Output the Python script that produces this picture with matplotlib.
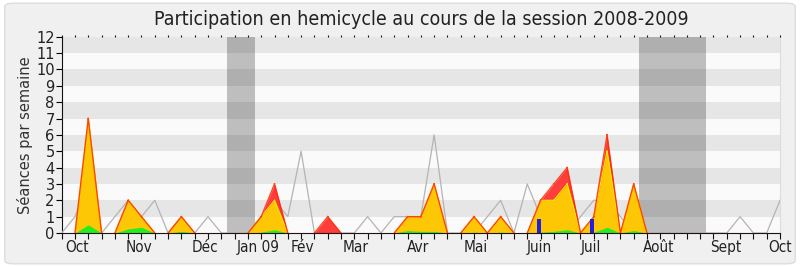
import matplotlib
matplotlib.use("Agg")
import matplotlib.pyplot as plt
from matplotlib.patches import FancyBboxPatch
import numpy as np

# weekly data, week index 0..54
weeks = list(range(55))
red_total = [0, 0, 7, 0, 0, 2, 1, 0, 0, 1, 0, 0, 0, 0, 0, 1, 3, 0, 0, 0,
             1, 0, 0, 0, 0, 0, 1, 1, 3, 0, 0, 1, 0, 1, 0, 0, 2, 3, 4, 0,
             1, 6, 0, 3, 0, 0, 0, 0, 0, 0, 0, 0, 0, 0, 0]
yellow_total = [0, 0, 7, 0, 0, 2, 1, 0, 0, 1, 0, 0, 0, 0, 0, 1, 2, 0, 0, 0,
                0, 0, 0, 0, 0, 0, 1, 1, 3, 0, 0, 1, 0, 1, 0, 0, 2, 2, 3, 0,
                1, 5, 0, 3, 0, 0, 0, 0, 0, 0, 0, 0, 0, 0, 0]
green = [0, 0, 0.5, 0, 0, 0.25, 0.35, 0, 0, 0.1, 0, 0, 0, 0, 0, 0.05, 0.2, 0, 0, 0,
         0, 0, 0, 0, 0, 0, 0.15, 0.1, 0.1, 0, 0, 0.05, 0, 0.05, 0, 0, 0.05, 0.1, 0.2, 0,
         0.05, 0.35, 0, 0.15, 0, 0, 0, 0, 0, 0, 0, 0, 0, 0, 0]
median = [0, 1, 3, 0, 1, 2, 1, 2, 0, 1, 0, 1, 0, 0, 0, 1, 2, 1, 5, 0,
          0, 0, 0, 1, 0, 1, 1, 1, 6, 0, 0, 0, 1, 2, 0, 3, 1, 2, 0, 1,
          2, 2, 1, 0, 0, 0, 0, 0, 0, 0, 0, 1, 0, 0, 2]
blue_weeks = [35.9, 39.9]
blue_values = [0.86, 0.86]

vacations = [(12.42, 14.5), (43.4, 48.4)]
month_labels = ["Oct", "Nov", "Déc", "Jan 09", "Fév", "Mar", "Avr", "Mai",
                "Juin", "Juil", "Août", "Sept", "Oct"]
month_pos = [1.15, 5.85, 10.8, 14.8, 18.1, 22.1, 26.8, 31.1, 35.9, 39.8, 44.9, 49.9, 54.0]

title = "Participation en hemicycle au cours de la session 2008-2009"
ylabel = "Séances par semaine"


def nonzero_segments(xv, yv):
    """Return x, y with NaN breaks so that runs of zeros are not drawn."""
    xs, ys = [], []
    n = len(yv)
    for k in range(n - 1):
        if yv[k] > 0 or yv[k + 1] > 0:
            xs += [xv[k], xv[k + 1], np.nan]
            ys += [yv[k], yv[k + 1], np.nan]
    return xs, ys


fig = plt.figure(figsize=(8, 2.67), dpi=100)
fig.patch.set_facecolor("white")
bg = FancyBboxPatch((0.006, 0.012), 0.988, 0.976, boxstyle="round,pad=0,rounding_size=0.012",
                    transform=fig.transFigure, facecolor="#f0f0f0", edgecolor="#dddddd",
                    linewidth=1, zorder=-10)
fig.patches.append(bg)

ax = fig.add_axes([0.0771, 0.1273, 0.8979, 0.7352])
ax.set_facecolor("#fafafa")
ax.set_xlim(0, 54)
ax.set_ylim(0, 12)

for a, b in vacations:
    ax.axvspan(a, b, color="#bebebe", lw=0, zorder=1)
for k in range(1, 12, 2):
    ax.axhspan(k, k + 1, color="black", alpha=0.08, lw=0, zorder=2)

x = np.array(weeks)
ax.plot(x, median, color="#b4b4b4", lw=0.9, zorder=3)
ax.fill_between(x, 0, red_total, color="#ff3333", lw=0, zorder=4, alpha=0.95)
ax.fill_between(x, 0, yellow_total, color="#ffd700", lw=0, zorder=5, alpha=0.9)
xs, ys = nonzero_segments(x, yellow_total)
ax.plot(xs, ys, color="#ffee00", lw=0.8, zorder=6)
ax.fill_between(x, 0, green, color="#22ee22", lw=0, zorder=6)
xs, ys = nonzero_segments(x, red_total)
ax.plot(xs, ys, color="#ff2a00", lw=1.0, zorder=7, alpha=0.85)
ax.bar(blue_weeks, blue_values, width=0.3, color="#2020dd", zorder=8)

ax.set_yticks(range(13))
ax.set_yticklabels([str(v) for v in range(13)], fontsize=10.5, color="#222222")
ax.set_xticks(range(55))
ax.set_xticklabels([])
ax.tick_params(axis="x", which="major", length=4, width=0.8, direction="out",
               top=True, color="#111111")
ax.tick_params(axis="y", length=4, width=0.8, direction="out", pad=1)
for t in ax.xaxis.get_major_ticks():
    t.tick2line.set_markersize(1.2)
for lab, p in zip(month_labels, month_pos):
    ax.text(p, -0.45, lab, ha="center", va="top", fontsize=11, color="#222222",
            fontstretch="condensed")

for s in ["top", "right"]:
    ax.spines[s].set_visible(False)
ax.spines["left"].set_color("#111111")
ax.spines["bottom"].set_color("#221111")
ax.spines["bottom"].set_zorder(9)
ax.plot([54, 54], [0, 12], color="#dddddd", lw=0.8, zorder=0, clip_on=False)

ax.set_ylabel(ylabel, fontsize=10.5, color="#333333", labelpad=2)
ax.text(0.5, 1.04, title, transform=ax.transAxes, ha="center", va="bottom",
        fontsize=14, color="#222222", fontstretch="condensed")

fig.savefig("out.png", dpi=100, facecolor=fig.get_facecolor())
